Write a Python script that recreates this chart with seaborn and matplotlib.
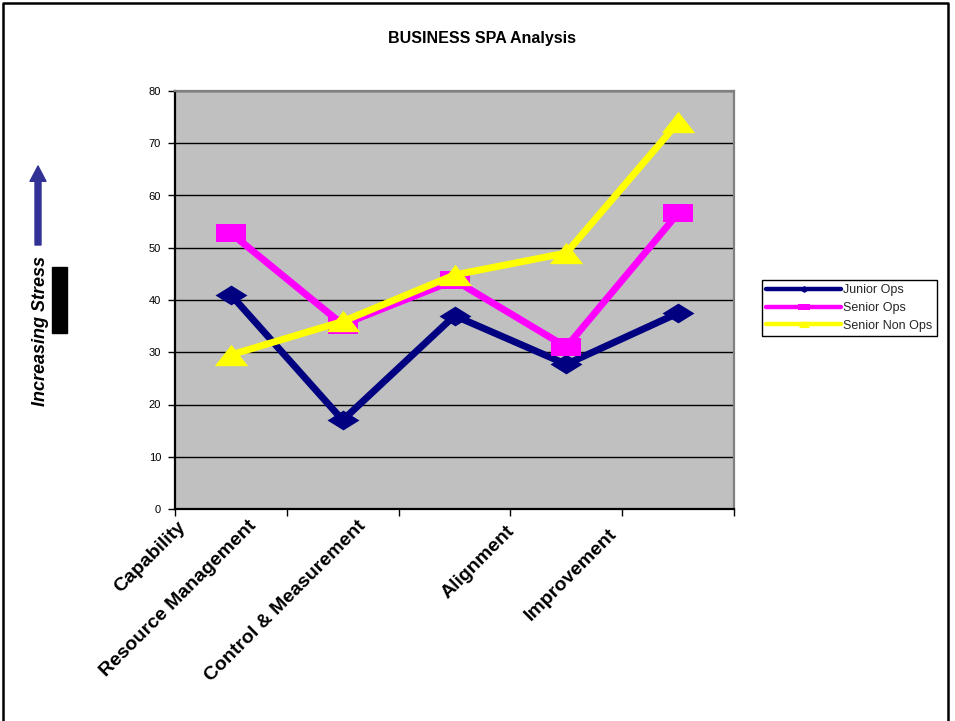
import matplotlib
matplotlib.use("Agg")
import matplotlib.pyplot as plt
import matplotlib.transforms as mtransforms
from matplotlib.path import Path
from matplotlib.lines import Line2D
from matplotlib.patches import Rectangle, FancyArrowPatch
import numpy as np
import pandas as pd
import seaborn as sns

# ---------------- data ----------------
categories = ["Capability", "Resource Management", "Control & Measurement",
              "Alignment", "Improvement"]
junior_ops = [41.0, 17.0, 37.0, 27.7, 37.5]
senior_ops = [52.8, 35.3, 43.8, 31.0, 56.6]
senior_non_ops = [29.5, 35.9, 44.8, 49.0, 74.0]
series_names = ["Junior Ops", "Senior Ops", "Senior Non Ops"]
y_ticks = [0, 10, 20, 30, 40, 50, 60, 70, 80]
title = "BUSINESS SPA Analysis"
side_label = "Increasing Stress"

# ---------------- style ----------------
sns.set_theme(style="white")
plt.rcParams["font.family"] = ["Liberation Sans", "DejaVu Sans"]

W, H = 955, 721
fig = plt.figure(figsize=(W / 100, H / 100), dpi=100)
fig.patch.set_facecolor("white")

ax = fig.add_axes([175 / W, 1 - 509 / H, (734 - 175) / W, (509 - 91) / H])
ax.set_facecolor("#C0C0C0")

# squashed markers (wider than tall)
diamond = Path([(-1, 0), (0, 0.62), (1, 0), (0, -0.62), (-1, 0)],
               [Path.MOVETO, Path.LINETO, Path.LINETO, Path.LINETO, Path.CLOSEPOLY])
square = Path([(-1, -0.6), (1, -0.6), (1, 0.6), (-1, 0.6), (-1, -0.6)],
              [Path.MOVETO, Path.LINETO, Path.LINETO, Path.LINETO, Path.CLOSEPOLY])
triangle = Path([(-1, -0.64), (1, -0.64), (0, 0.64), (-1, -0.64)],
                [Path.MOVETO, Path.LINETO, Path.LINETO, Path.CLOSEPOLY])

colors = ["#000080", "#FF00FF", "#FFFF00"]
markers = [diamond, square, triangle]
msizes = [23, 21.5, 24]
all_values = [junior_ops, senior_ops, senior_non_ops]

x_pos = np.arange(len(categories))
for name, vals, col, mk, ms in zip(series_names, all_values, colors, markers, msizes):
    df = pd.DataFrame({"x": x_pos, "y": vals})
    sns.lineplot(data=df, x="x", y="y", ax=ax, color=col, linewidth=5,
                 marker=mk, markersize=ms, mec=col, mfc=col, mew=0,
                 sort=False, legend=False, zorder=3)

ax.set_xlim(-0.5, len(categories) - 0.5)
ax.set_ylim(0, 80)
ax.set_xlabel("")
ax.set_ylabel("")

# grid
ax.set_yticks(y_ticks)
ax.set_yticklabels([str(v) for v in y_ticks])
ax.yaxis.grid(True, color="black", linewidth=1.0)
ax.xaxis.grid(False)
ax.set_axisbelow(True)

# spines
for s in ["left", "bottom"]:
    ax.spines[s].set_color("black")
    ax.spines[s].set_linewidth(1.6)
for s in ["top", "right"]:
    ax.spines[s].set_color("#808080")
    ax.spines[s].set_linewidth(1.6)

ax.tick_params(axis="y", which="major", direction="out", length=5, width=1,
               color="black", labelsize=8, pad=5, left=True, labelcolor="black")

# x: ticks at category boundaries, labels at centers
ax.set_xticks(x_pos)
ax.set_xticks(np.arange(-0.5, len(categories), 1.0), minor=True)
ax.tick_params(axis="x", which="minor", direction="out", length=5, width=1,
               color="black", bottom=True)
ax.tick_params(axis="x", which="major", length=0, pad=0)
ax.set_xticklabels(categories, rotation=45, ha="right", va="top",
                   fontsize=14, fontweight="bold", color="black")

label_dx = [-42, -83, -85, -48, -58]
label_dy = [-9, -8, -8, -14, -16]
for lab, dx, dy in zip(ax.get_xticklabels(), label_dx, label_dy):
    off = mtransforms.ScaledTranslation(dx / 100, dy / 100, fig.dpi_scale_trans)
    lab.set_transform(lab.get_transform() + off)

# legend
handles = []
for name, col, mk in zip(series_names, colors, markers):
    handles.append(Line2D([0], [0], color=col, linewidth=3.2, marker=mk,
                          markersize=8, mfc=col, mec=col, mew=0))
leg = fig.legend(handles=handles, labels=series_names, loc="upper left",
                 bbox_to_anchor=(762 / W, 1 - 280 / H), frameon=True,
                 fancybox=False, framealpha=1, edgecolor="black",
                 fontsize=9, handlelength=6.0, handletextpad=0.15,
                 borderpad=0.35, labelspacing=0.45, borderaxespad=0)
leg.get_frame().set_linewidth(1.0)

# title
fig.text(482 / W, 1 - 38 / H, title, ha="center", va="center",
         fontsize=11.5, fontweight="bold", color="black")

# side label, arrow, black box
fig.text(41 / W, 1 - 331 / H, side_label, rotation=90, ha="center", va="center",
         fontsize=13, fontweight="bold", fontstyle="italic", color="black")
arrow = FancyArrowPatch((38 / W, 1 - 245 / H), (38 / W, 1 - 166 / H),
                        transform=fig.transFigure,
                        arrowstyle="simple,head_length=11,head_width=11.5,tail_width=4.3",
                        mutation_scale=1, color="#323296", shrinkA=0, shrinkB=0)
fig.add_artist(arrow)
fig.add_artist(Rectangle((52 / W, 1 - 333 / H), 15 / W, 66 / H,
                         transform=fig.transFigure, color="black"))

# outer frame (top, left, right)
fig.add_artist(Line2D([3 / W, 3 / W, 948 / W, 948 / W],
                      [0, 1 - 3 / H, 1 - 3 / H, 0],
                      transform=fig.transFigure, color="black", linewidth=1.8))

fig.savefig("out.png", dpi=100)
